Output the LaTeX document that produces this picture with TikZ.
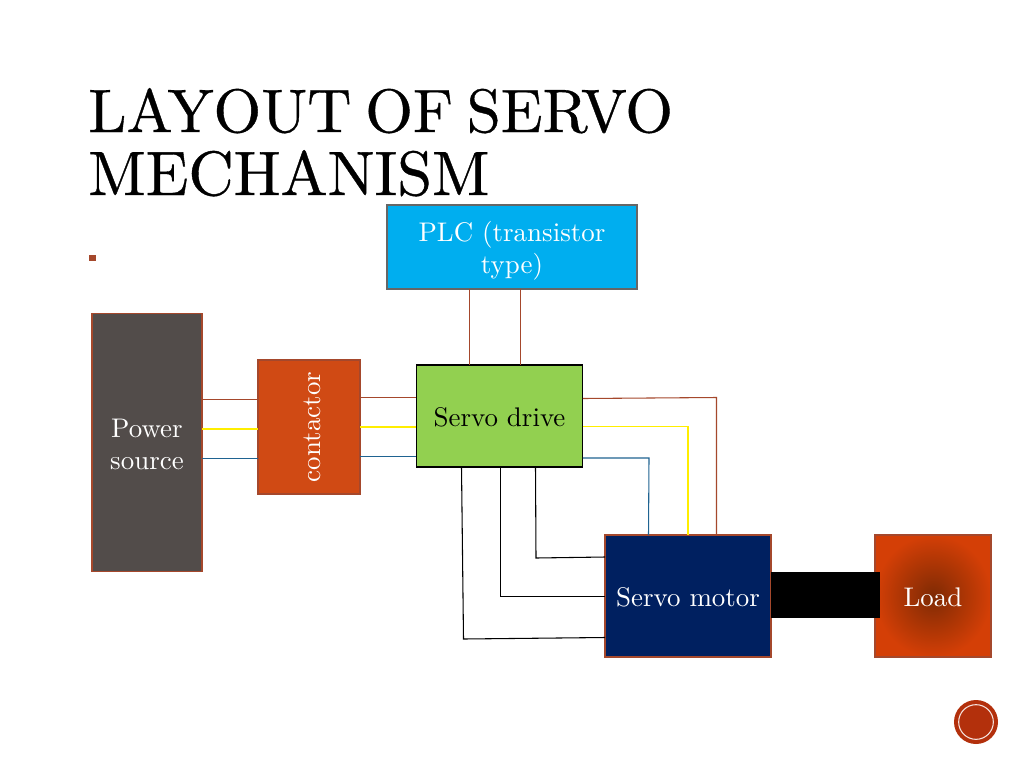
\documentclass[tikz,border=0pt]{standalone}
\usepackage{fontspec}
\setmainfont{lmroman10-regular.otf}
\newfontfamily\titlefont{lmroman10-regular.otf}[FakeBold=0.6]
\definecolor{rust}{HTML}{A5482C}
\definecolor{wireyel}{HTML}{FFEE00}
\definecolor{wireblue}{HTML}{1F6391}
\definecolor{powerc}{HTML}{524C4A}
\definecolor{contc}{HTML}{D04A14}
\definecolor{plcc}{HTML}{00AEEF}
\definecolor{drivec}{HTML}{92D050}
\definecolor{motorc}{HTML}{002060}
\definecolor{loadout}{HTML}{D43F06}
\definecolor{loadin}{HTML}{7E2A04}
\definecolor{badge}{HTML}{B3300C}
\tikzset{
  x=0.75pt,y=-0.75pt,
  labeltext/.style={font=\fontsize{20.2}{24}\selectfont},
  block/.style={draw=rust,line width=0.9pt,inner sep=0pt,outer sep=0pt,align=center,text=white,labeltext},
  wirer/.style={draw=rust,line width=0.8pt},
  wirey/.style={draw=wireyel,line width=1.1pt},
  wireb/.style={draw=wireblue,line width=0.8pt},
  wirek/.style={draw=black,line width=0.8pt},
  titletext/.style={anchor=base west,inner sep=0pt,text=black}
}
\begin{document}
\begin{tikzpicture}
\useasboundingbox (0,0) rectangle (1024,768);
\fill[white] (0,0) rectangle (1024,768);
% title
\node[titletext,font=\titlefont\fontsize{46}{49}\selectfont] (t1) at (88,132) {LAYOUT\hspace{-5pt} OF\hspace{-5pt} SERVO};
\node[titletext,font=\titlefont\fontsize{47}{49}\selectfont] (t2) at (88,195) {MECHANISM};
\node[fill=rust,minimum size=5.2pt,inner sep=0pt] (bullet) at (92.5,258) {};
% blocks
\node[block,fill=plcc,draw=gray!80!black,minimum width=187.5pt,minimum height=63pt] (plc) at (512,247) {};
\node[text=white,align=center,inner sep=0pt,labeltext] (plclabel) at (512,251) {PLC (transistor\\type)};
\node[block,fill=powerc,minimum width=82.5pt,minimum height=194pt] (power) at (147,442.5) {};
\node[text=white,align=center,inner sep=0pt,labeltext] (powerlabel) at (147,444) {Power\\source};
\node[block,fill=contc,minimum width=76.5pt,minimum height=100.5pt] (cont) at (309,427) {};
\node[text=white,rotate=90,inner sep=0pt,labeltext] (contlabel) at (312,427) {contactor};
\node[block,fill=drivec,draw=black,text=black,minimum width=125pt,minimum height=76.5pt] (drive) at (499.5,416) {};
\node[text=black,inner sep=0pt,labeltext,anchor=base] (drivelabel) at (499.5,426) {Servo drive};
\node[block,fill=motorc,minimum width=124.5pt,minimum height=91.5pt] (motor) at (688,596) {};
\node[text=white,inner sep=0pt,labeltext,anchor=base] (motorlabel) at (688,606) {Servo motor};
\node[block,inner color=loadin,outer color=loadout,minimum width=87pt,minimum height=91.5pt] (load) at (933,596) {};
\node[text=white,inner sep=0pt,labeltext,anchor=base] (loadlabel) at (933,606) {Load};
\node[fill=black,inner sep=0pt,minimum width=81.5pt,minimum height=35pt] (shaft) at (825.5,595) {};
% badge
\node[circle,fill=badge,minimum size=33pt,inner sep=0pt] (badge) at (976,722) {};
\node[circle,draw=white!85!badge,line width=0.8pt,minimum size=26pt,inner sep=0pt] (badgering) at (976,722) {};
% PLC to drive
\draw[wirer] (plc.south -| 469.5,0) -- (drive.north -| 469.5,0);
\draw[wirer] (plc.south -| 520.5,0) -- (drive.north -| 520.5,0);
% power to contactor
\draw[wirer] (power.east |- 0,399.5) -- (cont.west |- 0,399.5);
\draw[wirey] (power.east |- 0,429) -- (cont.west |- 0,429);
\draw[wireb] (power.east |- 0,458.5) -- (cont.west |- 0,458.5);
% contactor to drive
\draw[wirer] (cont.east |- 0,397.5) -- (drive.west |- 0,397.5);
\draw[wirey] (cont.east |- 0,427) -- (drive.west |- 0,427);
\draw[wireb] (cont.east |- 0,456.5) -- (drive.west |- 0,456.5);
% drive to motor, top
\draw[wirer] (drive.east |- 0,398.5) -- (716.5,397.5) -- (motor.north -| 716.5,0);
\draw[wirey] (drive.east |- 0,426.5) -- (688,426.5) -- (motor.north -| 688,0);
\draw[wireb] (drive.east |- 0,458) -- (649,458) -- (648.5,535) -- (motor.north -| 648.5,0);
% drive to motor, below
\draw[wirek] (drive.south -| 535.5,0) -- (536,558) -- (motor.west |- 0,557);
\draw[wirek] (drive.south -| 500.5,0) -- (500.5,596.5) -- (motor.west |- 0,596.5);
\draw[wirek] (drive.south -| 461.5,0) -- (463.5,639) -- (motor.west |- 0,637.5);
\end{tikzpicture}
\end{document}
